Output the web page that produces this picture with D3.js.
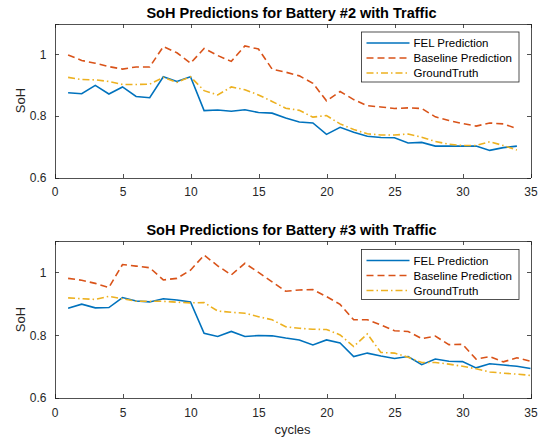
<html>
  <head>
    <meta charset="utf-8">
    <title>SoH predictions</title>
    <style>
      body { margin: 0; background: #fff; }
      .axis path, .axis line { fill: none; stroke: #262626; stroke-width: 0.8; shape-rendering: crispEdges; }
      .axis text { font-family: "Liberation Sans", Arial, sans-serif; font-size: 12px; fill: #262626; }
    </style>
  </head>
  <body>
    <script src="https://cdn.jsdelivr.net/npm/d3@7"></script>
    <script>
    var width = 546, height = 440;

    // battery #2: cycles 1..34
    var cycles2 = d3.range(1, 35);
    var fel2 = [0.875, 0.872, 0.899, 0.871, 0.894, 0.863, 0.859, 0.927, 0.912, 0.927,
                0.817, 0.819, 0.815, 0.820, 0.811, 0.809, 0.793, 0.780, 0.777, 0.740,
                0.763, 0.747, 0.734, 0.730, 0.729, 0.712, 0.714, 0.702, 0.702, 0.702,
                0.702, 0.688, 0.697, 0.702];
    var base2 = [0.998, 0.980, 0.971, 0.960, 0.952, 0.959, 0.959, 1.025, 1.005, 0.971,
                 1.019, 0.996, 0.977, 1.027, 1.017, 0.952, 0.942, 0.930, 0.906, 0.849,
                 0.879, 0.853, 0.833, 0.829, 0.824, 0.826, 0.824, 0.797, 0.785, 0.775,
                 0.767, 0.777, 0.774, 0.759];
    var truth2 = [0.925, 0.918, 0.917, 0.912, 0.902, 0.902, 0.903, 0.925, 0.909, 0.927,
                  0.882, 0.868, 0.894, 0.885, 0.868, 0.847, 0.825, 0.818, 0.796, 0.801,
                  0.774, 0.756, 0.742, 0.738, 0.738, 0.741, 0.731, 0.717, 0.708, 0.704,
                  0.704, 0.716, 0.704, 0.689];

    // battery #3: cycles 1..35
    var cycles3 = d3.range(1, 36);
    var fel3 = [0.886, 0.899, 0.887, 0.888, 0.920, 0.909, 0.906, 0.916, 0.912, 0.906,
                0.806, 0.796, 0.812, 0.796, 0.799, 0.798, 0.791, 0.785, 0.769, 0.785,
                0.775, 0.732, 0.743, 0.734, 0.726, 0.732, 0.706, 0.724, 0.717, 0.716,
                0.696, 0.709, 0.705, 0.701, 0.694];
    var base3 = [0.981, 0.975, 0.965, 0.952, 1.025, 1.020, 1.015, 0.976, 0.981, 1.007,
                 1.055, 1.021, 0.992, 1.029, 1.000, 0.970, 0.940, 0.944, 0.945, 0.923,
                 0.898, 0.849, 0.849, 0.833, 0.814, 0.812, 0.789, 0.797, 0.770, 0.771,
                 0.724, 0.732, 0.715, 0.728, 0.717];
    var truth3 = [0.919, 0.916, 0.914, 0.924, 0.916, 0.908, 0.908, 0.908, 0.905, 0.903,
                  0.904, 0.877, 0.873, 0.870, 0.859, 0.849, 0.827, 0.822, 0.819, 0.818,
                  0.801, 0.764, 0.804, 0.745, 0.743, 0.730, 0.713, 0.713, 0.708, 0.701,
                  0.693, 0.683, 0.679, 0.676, 0.672];

    var xTicks = [0, 5, 10, 15, 20, 25, 30, 35];
    var yTicks = [0.6, 0.8, 1];
    var names = ["FEL Prediction", "Baseline Prediction", "GroundTruth"];
    var colors = ["#0072BD", "#D95319", "#EDB120"];
    var dashes = [null, "7,4", "7,3,1.5,3"];

    var svg = d3.select('body').append('svg')
      .attr('width', width).attr('height', height);

    var panels = [
      {title: "SoH Predictions for Battery #2 with Traffic", x: cycles2, series: [fel2, base2, truth2], top: 23.5, bottom: 177.5},
      {title: "SoH Predictions for Battery #3 with Traffic", x: cycles3, series: [fel3, base3, truth3], top: 241, bottom: 398}
    ];

    var left = 54.5, right = 530.5;

    panels.forEach(function(p, k) {
      var xScale = d3.scaleLinear().domain([0, 35]).range([left, right]);
      var yScale = d3.scaleLinear().domain([0.6, 1.1]).range([p.bottom, p.top]);
      var g = svg.append('g');

      // lines
      var line = d3.line()
        .x(function(d) { return xScale(d[0]); })
        .y(function(d) { return yScale(d[1]); });
      p.series.forEach(function(s, i) {
        g.append('path')
          .datum(p.x.map(function(c, j) { return [c, s[j]]; }))
          .attr('d', line)
          .attr('fill', 'none')
          .attr('stroke', colors[i])
          .attr('stroke-width', 1.6)
          .attr('stroke-dasharray', dashes[i]);
      });

      // axes (ticks inward, box)
      g.append('g').attr('class', 'axis')
        .attr('transform', 'translate(0,' + p.bottom + ')')
        .call(d3.axisBottom(xScale).tickValues(xTicks).tickSize(-4).tickPadding(10).tickFormat(d3.format('d')));
      g.append('g').attr('class', 'axis')
        .attr('transform', 'translate(0,' + p.top + ')')
        .call(d3.axisTop(xScale).tickValues(xTicks).tickSize(-4).tickFormat(''));
      g.append('g').attr('class', 'axis')
        .attr('transform', 'translate(' + left + ',0)')
        .call(d3.axisLeft(yScale).tickValues(yTicks).tickSize(-4).tickPadding(8).tickFormat(function(d) { return d === 1 ? '1' : d3.format('.1f')(d); }));
      g.append('g').attr('class', 'axis')
        .attr('transform', 'translate(' + right + ',0)')
        .call(d3.axisRight(yScale).tickValues(yTicks).tickSize(-4).tickFormat(''));
      g.selectAll('.axis .domain').attr('stroke', '#262626');

      // title
      g.append('text')
        .attr('x', (left + right) / 2 - 1).attr('y', p.top - 6)
        .attr('text-anchor', 'middle')
        .style('font-family', '"Liberation Sans", Arial, sans-serif')
        .style('font-size', '14.5px').style('font-weight', 'bold')
        .attr('fill', '#000')
        .text(p.title);

      // y label
      g.append('text')
        .attr('transform', 'translate(25,' + ((p.top + p.bottom) / 2) + ') rotate(-90)')
        .attr('text-anchor', 'middle')
        .style('font-family', '"Liberation Sans", Arial, sans-serif')
        .style('font-size', '13px')
        .attr('fill', '#262626')
        .text('SoH');

      // legend
      var lx = 361.5, ly = p.top + 8.5;
      var leg = g.append('g').attr('transform', 'translate(' + lx + ',' + ly + ')');
      leg.append('rect')
        .attr('width', 157.5).attr('height', 50)
        .attr('fill', '#fff').attr('stroke', '#262626').attr('stroke-width', 0.8);
      names.forEach(function(n, i) {
        var yy = 11 + i * 15;
        leg.append('line')
          .attr('x1', 5).attr('x2', 48).attr('y1', yy).attr('y2', yy)
          .attr('stroke', colors[i]).attr('stroke-width', 1.6)
          .attr('stroke-dasharray', dashes[i]);
        leg.append('text')
          .attr('x', 52).attr('y', yy + 4)
          .style('font-family', '"Liberation Sans", Arial, sans-serif')
          .style('font-size', '11.5px')
          .attr('fill', '#000')
          .text(n);
      });
    });

    // x label
    svg.append('text')
      .attr('x', (left + right) / 2).attr('y', 434)
      .attr('text-anchor', 'middle')
      .style('font-family', '"Liberation Sans", Arial, sans-serif')
      .style('font-size', '13px')
      .attr('fill', '#262626')
      .text('cycles');
    </script>
  </body>
</html>
